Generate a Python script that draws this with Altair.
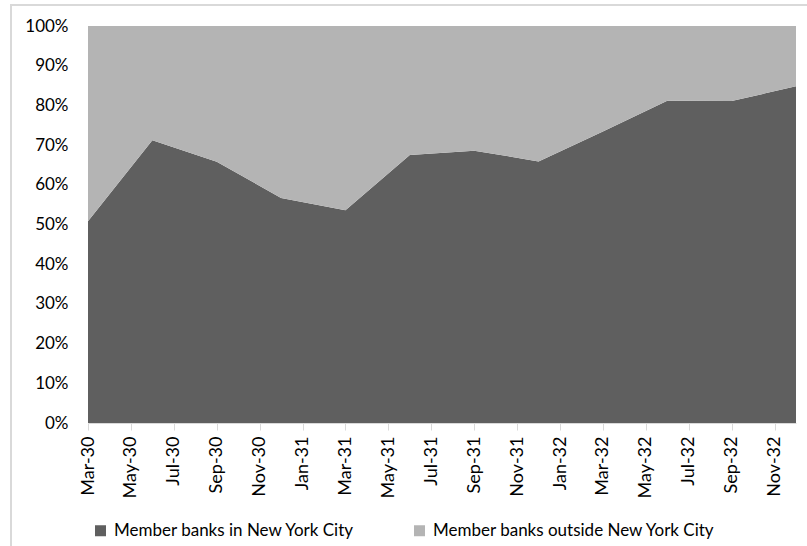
import altair as alt
import pandas as pd

# Quarterly share of borrowings (per cent) by location of member banks
periods = ["Mar-30", "Jun-30", "Sep-30", "Dec-30",
           "Mar-31", "Jun-31", "Sep-31", "Dec-31",
           "Mar-32", "Jun-32", "Sep-32", "Dec-32"]
nyc_share = [50.8, 71.2, 65.8, 56.7, 53.6, 67.5, 68.6, 65.9, 73.4, 81.2, 81.1, 84.8]
outside_share = [49.2, 28.8, 34.2, 43.3, 46.4, 32.5, 31.4, 34.1, 26.6, 18.8, 18.9, 15.2]

series_names = ["Member banks in New York City", "Member banks outside New York City"]
series_colors = ["#5f5f5f", "#b4b4b4"]

tick_labels = ["Mar-30", "May-30", "Jul-30", "Sep-30", "Nov-30", "Jan-31",
               "Mar-31", "May-31", "Jul-31", "Sep-31", "Nov-31", "Jan-32",
               "Mar-32", "May-32", "Jul-32", "Sep-32", "Nov-32"]

MONTHS = ["Jan", "Feb", "Mar", "Apr", "May", "Jun",
          "Jul", "Aug", "Sep", "Oct", "Nov", "Dec"]


def month_index(label):
    """Months elapsed since March 1930 for a 'Mon-YY' label."""
    mon, yy = label.split("-")
    return (int(yy) - 30) * 12 + MONTHS.index(mon) - 2


rows = []
for order, (name, values) in enumerate(zip(series_names, [nyc_share, outside_share])):
    for p, v in zip(periods, values):
        rows.append({"month": month_index(p), "period": p, "series": name,
                     "share": v, "order": order})
df = pd.DataFrame(rows)

tick_values = [month_index(t) for t in tick_labels]
label_expr = "[" + ",".join("'%s'" % t for t in tick_labels) + "][datum.value / 2]"

FONT = "Lato"
TEXT = "#000000"
LINE = "#d9d9d9"

areas = alt.Chart(df).mark_area(interpolate="linear").encode(
    x=alt.X("month:Q",
            scale=alt.Scale(domain=[0, 33], nice=False, zero=False),
            axis=alt.Axis(values=tick_values, labelExpr=label_expr, title=None,
                          grid=False, labelAngle=270, labelAlign="right",
                          labelBaseline="middle", labelPadding=6,
                          tickSize=7, tickColor=LINE, domainColor=LINE,
                          labelFont=FONT, labelFontSize=18, labelColor=TEXT)),
    y=alt.Y("share:Q", stack="normalize",
            scale=alt.Scale(domain=[0, 1], nice=False),
            axis=alt.Axis(values=[i / 10 for i in range(11)], format=".0%",
                          title=None, grid=False, ticks=False, tickSize=0,
                          domain=False, labelPadding=20,
                          labelFont=FONT, labelFontSize=17, labelColor=TEXT)),
    color=alt.Color("series:N",
                    scale=alt.Scale(domain=series_names, range=series_colors),
                    legend=alt.Legend(title=None, orient="none", direction="horizontal",
                                      legendX=4, legendY=496, padding=0,
                                      symbolType="square", symbolSize=121,
                                      symbolStrokeWidth=0, labelOffset=5,
                                      columnPadding=56, labelLimit=500,
                                      labelFont=FONT, labelFontSize=17,
                                      labelColor=TEXT)),
    order=alt.Order("order:Q"),
)

# Light grey outline around the chart area
frame = alt.Chart(alt.Data(values=[{}])).mark_rect(
    fill=None, stroke=LINE, strokeWidth=2
).encode(
    x=alt.value(-77), y=alt.value(-21), x2=alt.value(900), y2=alt.value(700)
)

chart = alt.layer(frame, areas).properties(
    width=708, height=397,
    autosize=alt.AutoSizeParams(type="none"),
    padding={"left": 88, "top": 26, "right": 11, "bottom": 123},
    background="white",
).configure_view(stroke=None)

chart.save("out.html", embed_options={"renderer": "svg", "actions": False})
